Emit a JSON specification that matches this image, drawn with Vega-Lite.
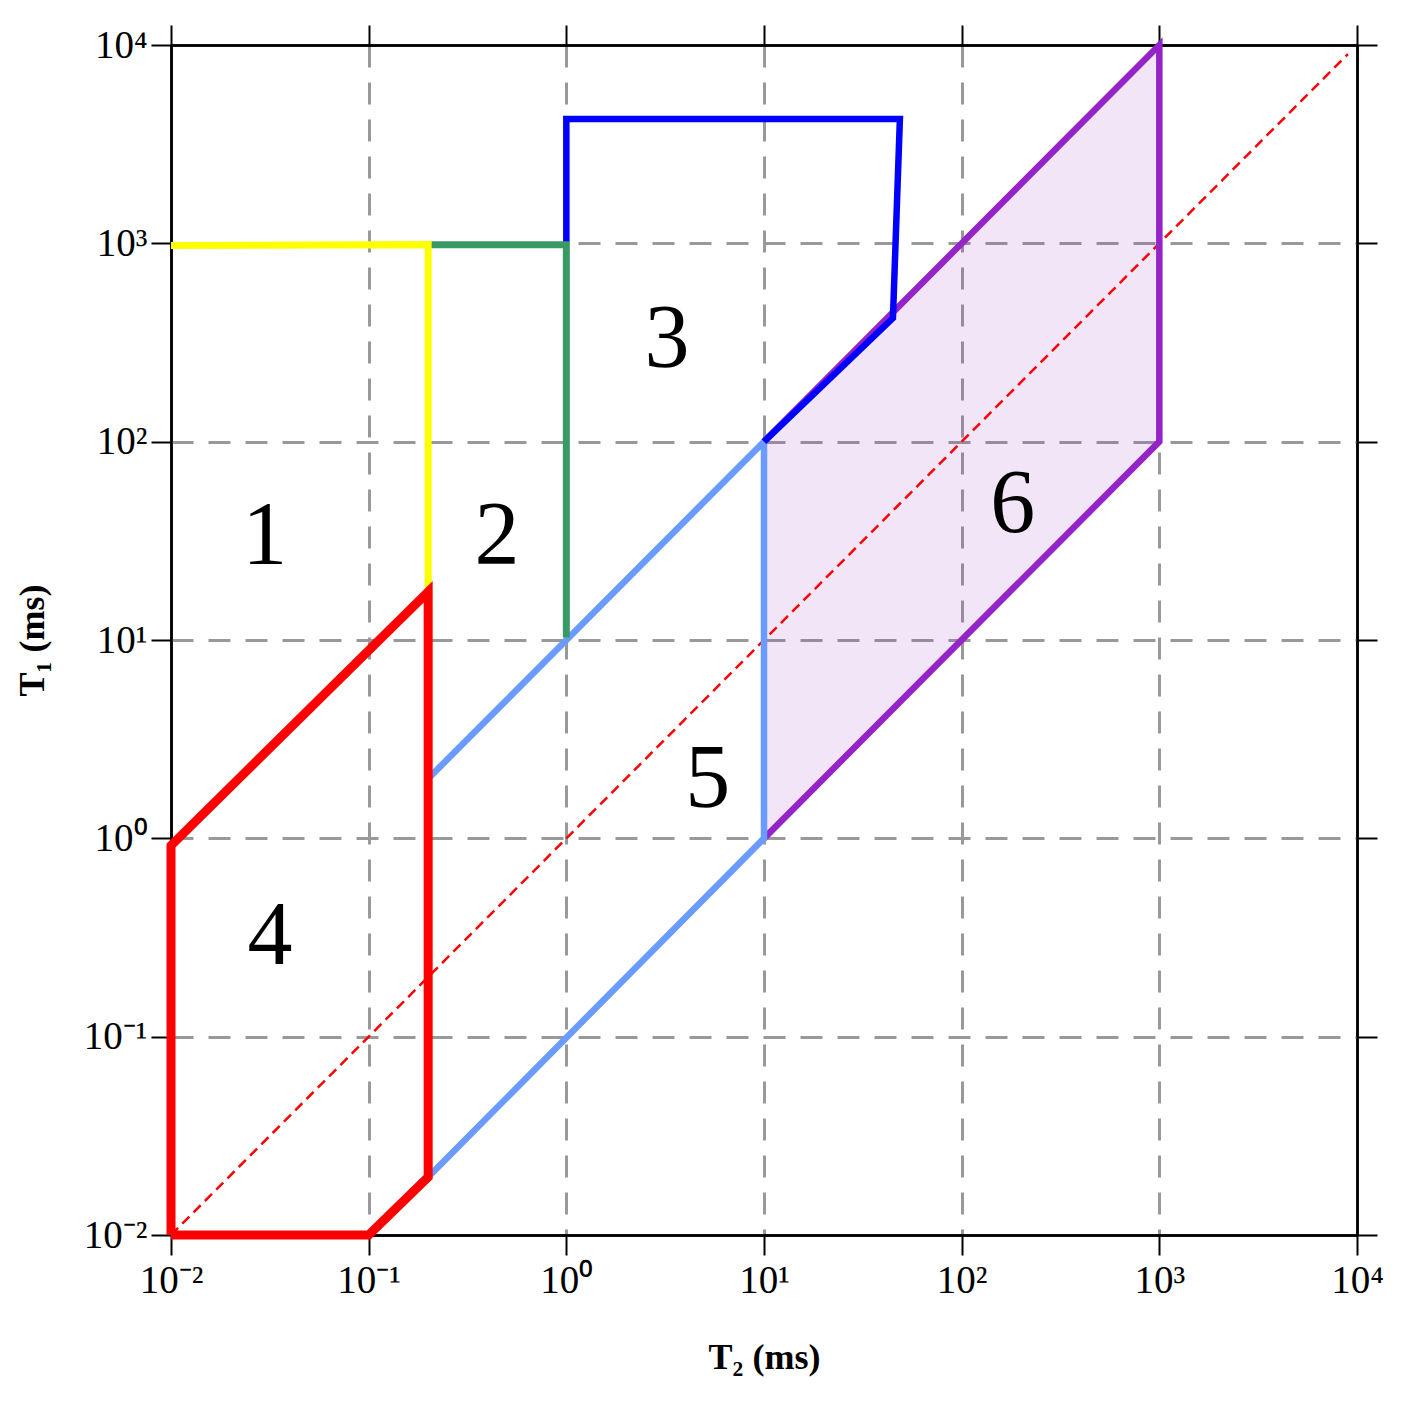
{
  "$schema": "https://vega.github.io/schema/vega-lite/v6.json",
  "width": 1186,
  "height": 1190,
  "autosize": "none",
  "padding": {"left": 171, "top": 45, "right": 62, "bottom": 170},
  "background": "white",
  "config": {
    "view": {"stroke": null},
    "axis": {
      "labelFont": "Liberation Serif",
      "labelFontSize": 39,
      "labelColor": "black",
      "labelFlush": false,
      "labelBound": false,
      "labelOverlap": false,
      "tickSize": 20,
      "tickWidth": 2,
      "tickColor": "black",
      "domainColor": "black",
      "domainWidth": 2.5,
      "titleFont": "Liberation Serif",
      "titleFontSize": 36,
      "titleFontWeight": "bold",
      "titleColor": "black"
    }
  },
  "datasets": {
    "lines": [
      {"g": "purple", "i": 0, "t2": 10, "t1": 100},
      {"g": "purple", "i": 1, "t2": 1000, "t1": 10000},
      {"g": "purple", "i": 2, "t2": 1000, "t1": 100},
      {"g": "purple", "i": 3, "t2": 10, "t1": 1},
      {"g": "lightblue", "i": 0, "t2": 0.2, "t1": 2},
      {"g": "lightblue", "i": 1, "t2": 10, "t1": 100},
      {"g": "lightblue", "i": 2, "t2": 10, "t1": 1},
      {"g": "lightblue", "i": 3, "t2": 0.2, "t1": 0.0196},
      {"g": "lightblue", "i": 4, "t2": 0.2, "t1": 2},
      {"g": "blue", "i": 0, "t2": 1, "t1": 1000},
      {"g": "blue", "i": 1, "t2": 1, "t1": 4236},
      {"g": "blue", "i": 2, "t2": 48.7, "t1": 4236},
      {"g": "blue", "i": 3, "t2": 44.9, "t1": 420},
      {"g": "blue", "i": 4, "t2": 10, "t1": 100},
      {"g": "green", "i": 0, "t2": 0.2, "t1": 985},
      {"g": "green", "i": 1, "t2": 1, "t1": 985},
      {"g": "green", "i": 2, "t2": 1, "t1": 10.3},
      {"g": "yellow", "i": 0, "t2": 0.01, "t1": 975},
      {"g": "yellow", "i": 1, "t2": 0.2, "t1": 985},
      {"g": "yellow", "i": 2, "t2": 0.2, "t1": 17.5},
      {"g": "red", "i": 0, "t2": 0.01, "t1": 0.01},
      {"g": "red", "i": 1, "t2": 0.01, "t1": 0.92},
      {"g": "red", "i": 2, "t2": 0.2, "t1": 17.5},
      {"g": "red", "i": 3, "t2": 0.2, "t1": 0.0196},
      {"g": "red", "i": 4, "t2": 0.1, "t1": 0.01},
      {"g": "red", "i": 5, "t2": 0.01, "t1": 0.01}
    ],
    "diag": [
      {"t2": 0.01, "t1": 0.01},
      {"t2": 9000, "t1": 9000}
    ],
    "fill": [
      {"t2": 10, "lo": 1, "hi": 100},
      {"t2": 1000, "lo": 100, "hi": 10000}
    ],
    "labels": [
      {"t2": 0.0298, "t1": 33, "txt": "1"},
      {"t2": 0.446, "t1": 33, "txt": "2"},
      {"t2": 3.23, "t1": 325, "txt": "3"},
      {"t2": 0.0317, "t1": 0.318, "txt": "4"},
      {"t2": 5.2, "t1": 1.96, "txt": "5"},
      {"t2": 181.5, "t1": 47.9, "txt": "6"}
    ]
  },
  "resolve": {"axis": {"x": "independent", "y": "independent"}},
  "layer": [
    {
      "data": {"name": "fill"},
      "mark": {"type": "area", "color": "#9b28c8", "opacity": 0.12},
      "encoding": {
        "x": {
          "field": "t2", "type": "quantitative",
          "scale": {"type": "log", "domain": [0.01, 10000], "nice": false},
          "axis": {
            "orient": "bottom",
            "values": [0.01, 0.1, 1, 10, 100, 1000, 10000],
            "labelExpr": "datum.value < 0.05 ? '10⁻²' : datum.value < 0.5 ? '10⁻¹' : datum.value < 5 ? '10⁰' : datum.value < 50 ? '10¹' : datum.value < 500 ? '10²' : datum.value < 5000 ? '10³' : '10⁴'",
            "labelPadding": 6,
            "title": "T₂ (ms)",
            "titlePadding": 40,
            "grid": true,
            "gridColor": {"condition": {"test": "datum.value < 0.02 || datum.value > 5000", "value": "black"}, "value": "#999999"},
            "gridDash": {"condition": {"test": "datum.value < 0.02 || datum.value > 5000", "value": []}, "value": [22, 15]},
            "gridWidth": {"condition": {"test": "datum.value < 0.02 || datum.value > 5000", "value": 2.5}, "value": 3}
          }
        },
        "y": {
          "field": "hi", "type": "quantitative",
          "scale": {"type": "log", "domain": [0.01, 10000], "nice": false},
          "axis": {
            "orient": "left",
            "values": [0.01, 0.1, 1, 10, 100, 1000, 10000],
            "labelExpr": "datum.value < 0.05 ? '10⁻²' : datum.value < 0.5 ? '10⁻¹' : datum.value < 5 ? '10⁰' : datum.value < 50 ? '10¹' : datum.value < 500 ? '10²' : datum.value < 5000 ? '10³' : '10⁴'",
            "labelPadding": 4,
            "title": "T₁ (ms)",
            "titlePadding": 32,
            "grid": true,
            "gridColor": {"condition": {"test": "datum.value < 0.02 || datum.value > 5000", "value": "black"}, "value": "#999999"},
            "gridDash": {"condition": {"test": "datum.value < 0.02 || datum.value > 5000", "value": []}, "value": [22, 15]},
            "gridWidth": {"condition": {"test": "datum.value < 0.02 || datum.value > 5000", "value": 2.5}, "value": 3}
          }
        },
        "y2": {"field": "lo"}
      }
    },
    {
      "data": {"name": "diag"},
      "mark": {"type": "line", "color": "#ff0000", "strokeWidth": 2.5, "strokeDash": [10, 6]},
      "encoding": {
        "x": {
          "field": "t2", "type": "quantitative",
          "scale": {"type": "log", "domain": [0.01, 10000], "nice": false},
          "axis": {"orient": "top", "values": [0.01, 0.1, 1, 10, 100, 1000, 10000], "labels": false, "grid": false, "title": null}
        },
        "y": {
          "field": "t1", "type": "quantitative",
          "scale": {"type": "log", "domain": [0.01, 10000], "nice": false},
          "axis": {"orient": "right", "values": [0.01, 0.1, 1, 10, 100, 1000, 10000], "labels": false, "grid": false, "title": null}
        }
      }
    },
    {
      "data": {"name": "lines"},
      "transform": [{"filter": "datum.g == 'purple'"}],
      "mark": {"type": "line", "color": "#9424c8", "strokeWidth": 6.5},
      "encoding": {
        "x": {"field": "t2", "type": "quantitative", "scale": {"type": "log", "domain": [0.01, 10000], "nice": false}, "axis": null},
        "y": {"field": "t1", "type": "quantitative", "scale": {"type": "log", "domain": [0.01, 10000], "nice": false}, "axis": null},
        "order": {"field": "i"}
      }
    },
    {
      "data": {"name": "lines"},
      "transform": [{"filter": "datum.g == 'lightblue'"}],
      "mark": {"type": "line", "color": "#6a9cff", "strokeWidth": 6.5},
      "encoding": {
        "x": {"field": "t2", "type": "quantitative", "scale": {"type": "log", "domain": [0.01, 10000], "nice": false}, "axis": null},
        "y": {"field": "t1", "type": "quantitative", "scale": {"type": "log", "domain": [0.01, 10000], "nice": false}, "axis": null},
        "order": {"field": "i"}
      }
    },
    {
      "data": {"name": "lines"},
      "transform": [{"filter": "datum.g == 'blue'"}],
      "mark": {"type": "line", "color": "#0000ff", "strokeWidth": 6.5},
      "encoding": {
        "x": {"field": "t2", "type": "quantitative", "scale": {"type": "log", "domain": [0.01, 10000], "nice": false}, "axis": null},
        "y": {"field": "t1", "type": "quantitative", "scale": {"type": "log", "domain": [0.01, 10000], "nice": false}, "axis": null},
        "order": {"field": "i"}
      }
    },
    {
      "data": {"name": "lines"},
      "transform": [{"filter": "datum.g == 'green'"}],
      "mark": {"type": "line", "color": "#3a9a66", "strokeWidth": 7},
      "encoding": {
        "x": {"field": "t2", "type": "quantitative", "scale": {"type": "log", "domain": [0.01, 10000], "nice": false}, "axis": null},
        "y": {"field": "t1", "type": "quantitative", "scale": {"type": "log", "domain": [0.01, 10000], "nice": false}, "axis": null},
        "order": {"field": "i"}
      }
    },
    {
      "data": {"name": "lines"},
      "transform": [{"filter": "datum.g == 'yellow'"}],
      "mark": {"type": "line", "color": "#ffff00", "strokeWidth": 7},
      "encoding": {
        "x": {"field": "t2", "type": "quantitative", "scale": {"type": "log", "domain": [0.01, 10000], "nice": false}, "axis": null},
        "y": {"field": "t1", "type": "quantitative", "scale": {"type": "log", "domain": [0.01, 10000], "nice": false}, "axis": null},
        "order": {"field": "i"}
      }
    },
    {
      "data": {"name": "lines"},
      "transform": [{"filter": "datum.g == 'red'"}],
      "mark": {"type": "line", "color": "#ff0000", "strokeWidth": 9},
      "encoding": {
        "x": {"field": "t2", "type": "quantitative", "scale": {"type": "log", "domain": [0.01, 10000], "nice": false}, "axis": null},
        "y": {"field": "t1", "type": "quantitative", "scale": {"type": "log", "domain": [0.01, 10000], "nice": false}, "axis": null},
        "order": {"field": "i"}
      }
    },
    {
      "data": {"name": "labels"},
      "mark": {"type": "text", "font": "Liberation Serif", "fontSize": 90, "color": "black", "align": "center", "baseline": "middle"},
      "encoding": {
        "x": {"field": "t2", "type": "quantitative", "scale": {"type": "log", "domain": [0.01, 10000], "nice": false}, "axis": null},
        "y": {"field": "t1", "type": "quantitative", "scale": {"type": "log", "domain": [0.01, 10000], "nice": false}, "axis": null},
        "text": {"field": "txt"}
      }
    }
  ]
}
